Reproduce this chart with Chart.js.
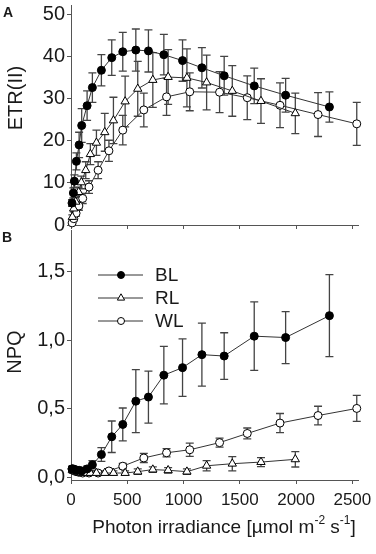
<!DOCTYPE html>
<html><head><meta charset="utf-8">
<script src="https://cdn.jsdelivr.net/npm/chart.js@4.4.0/dist/chart.umd.min.js"></script>
<style>
html,body{margin:0;padding:0;background:#fff;width:376px;height:554px;overflow:hidden}
#ca{position:absolute;left:0;top:0}
#cb{position:absolute;left:0;top:225px}
</style></head><body>
<canvas id="ca" width="376" height="240"></canvas>
<canvas id="cb" width="376" height="329"></canvas>
<script>
// ---- tick labels ----
const xTicks = [0, 500, 1000, 1500, 2000, 2500];
const etrTicks = [0, 10, 20, 30, 40, 50];
const npqTicks = [0, 0.5, 1.0, 1.5];
const seriesNames = ['BL', 'RL', 'WL'];

// ---- BL ----
const xBL = [9, 21, 30, 48, 72, 95, 143, 190, 270, 362, 460, 576, 688, 825, 991, 1163, 1361, 1628, 1907, 2296];
const etrBL = [5.2, 7.6, 10.4, 15.1, 19.0, 23.6, 28.3, 32.6, 36.7, 39.7, 41.1, 41.5, 41.3, 40.4, 39.0, 37.3, 35.4, 33.0, 30.8, 28.0];
const etrBLsd = [0.8, 1.2, 1.5, 2.0, 3.0, 4.0, 3.5, 3.5, 3.7, 4.2, 4.6, 5.0, 5.0, 4.8, 4.9, 4.8, 4.6, 4.2, 4.0, 3.6];
const npqBL = [0.06, 0.06, 0.055, 0.05, 0.05, 0.045, 0.06, 0.09, 0.165, 0.295, 0.385, 0.555, 0.585, 0.745, 0.80, 0.895, 0.885, 1.03, 1.02, 1.18];
const npqBLsd = [0.02, 0.02, 0.02, 0.02, 0.02, 0.02, 0.02, 0.03, 0.05, 0.115, 0.12, 0.23, 0.19, 0.21, 0.21, 0.23, 0.17, 0.25, 0.19, 0.30];

// ---- RL ----
const xRL = [12, 24, 42, 68, 92, 131, 172, 226, 300, 377, 481, 593, 727, 863, 1030, 1205, 1433, 1688, 1993];
const etrRL = [1.9, 3.9, 5.5, 7.8, 10.1, 13.0, 16.8, 19.5, 22.0, 24.8, 29.3, 32.3, 34.4, 35.1, 34.9, 33.8, 31.8, 29.4, 26.5];
const etrRLsd = [0.5, 0.8, 1.0, 1.2, 1.5, 2.0, 2.5, 3.0, 4.5, 5.5, 6.0, 6.5, 6.5, 6.5, 6.9, 6.5, 6.0, 5.3, 4.8];
const npqRL = [0.05, 0.045, 0.04, 0.035, 0.03, 0.03, 0.03, 0.03, 0.03, 0.03, 0.03, 0.04, 0.055, 0.05, 0.04, 0.083, 0.098, 0.11, 0.13];
const npqRLsd = [0.015, 0.015, 0.015, 0.015, 0.015, 0.015, 0.015, 0.015, 0.015, 0.015, 0.015, 0.02, 0.02, 0.02, 0.02, 0.038, 0.052, 0.033, 0.056];

// ---- WL ----
const xWL = [10, 25, 45, 70, 104, 160, 241, 337, 460, 647, 849, 1055, 1320, 1566, 1857, 2195, 2539];
const etrWL = [0.5, 1.5, 2.8, 4.5, 6.3, 9.0, 13.0, 17.6, 22.5, 27.3, 30.4, 31.6, 31.5, 30.2, 28.4, 26.2, 24.0];
const etrWLsd = [0.3, 0.5, 0.7, 1.0, 1.2, 1.5, 2.0, 2.5, 3.5, 4.0, 4.4, 4.5, 4.85, 5.2, 5.3, 5.2, 5.1];
const npqWL = [0.06, 0.05, 0.04, 0.035, 0.03, 0.03, 0.03, 0.045, 0.08, 0.14, 0.178, 0.20, 0.252, 0.319, 0.395, 0.45, 0.502];
const npqWLsd = [0.015, 0.015, 0.015, 0.015, 0.015, 0.015, 0.015, 0.015, 0.02, 0.033, 0.03, 0.048, 0.033, 0.04, 0.07, 0.068, 0.095];

const FONT = "'Liberation Sans', Arial, sans-serif";
const INK = '#1a1a1a';
const AXIS = '#555';

function pts(xs, ys) { return xs.map((x, i) => ({ x: x, y: ys[i] })); }

const styles = {
  BL: { pointStyle: 'circle', pointBackgroundColor: '#000', pointRadius: 4 },
  RL: { pointStyle: 'triangle', pointBackgroundColor: '#fff', pointRadius: 4.8 },
  WL: { pointStyle: 'circle', pointBackgroundColor: '#fff', pointRadius: 4 }
};
function ds(name, xs, ys, err) {
  return Object.assign({
    label: name, data: pts(xs, ys), err: err,
    borderColor: '#333', borderWidth: 1, pointBorderColor: '#000', pointBorderWidth: 1,
    showLine: true, tension: 0, clip: false, fill: false
  }, styles[name]);
}

const errorBars = {
  id: 'errorBars',
  beforeDatasetsDraw(chart) {
    const ctx = chart.ctx, xs = chart.scales.x, ys = chart.scales.y;
    chart.data.datasets.forEach(d => {
      if (!d.err) return;
      ctx.save();
      ctx.strokeStyle = '#444';
      ctx.lineWidth = 1.3;
      d.data.forEach((p, i) => {
        const e = d.err[i];
        const px = xs.getPixelForValue(p.x);
        const t = ys.getPixelForValue(p.y + e), b = ys.getPixelForValue(p.y - e);
        ctx.beginPath();
        ctx.moveTo(px, t); ctx.lineTo(px, b);
        ctx.moveTo(px - 4, t); ctx.lineTo(px + 4, t);
        ctx.moveTo(px - 4, b); ctx.lineTo(px + 4, b);
        ctx.stroke();
      });
      ctx.restore();
    });
  }
};

function xAxis(showLabels, h) {
  return {
    type: 'linear', min: 0, max: 2550,
    afterBuildTicks: s => { s.ticks = xTicks.map(v => ({ value: v })); },
    ticks: { display: showLabels, font: { family: FONT, size: 17 }, color: INK, padding: 6, maxRotation: 0, callback: v => String(v) },
    grid: { drawOnChartArea: false, drawTicks: true, tickLength: 4, color: AXIS, lineWidth: 1 },
    border: { display: true, color: AXIS, width: 1 },
    afterFit: s => { s.height = h; s.paddingLeft = 0; s.paddingRight = 0; }
  };
}
function yAxis(min, max, ticks, fmt) {
  return {
    type: 'linear', min: min, max: max,
    afterBuildTicks: s => { s.ticks = ticks.map(v => ({ value: v })); },
    ticks: { font: { family: FONT, size: 20 }, color: INK, padding: 2, callback: fmt },
    grid: { drawOnChartArea: false, drawTicks: true, tickLength: 4, color: AXIS, lineWidth: 1 },
    border: { display: true, color: AXIS, width: 1 },
    afterFit: s => { s.width = 71; s.paddingTop = 0; s.paddingBottom = 0; }
  };
}

const textA = {
  id: 'textA',
  afterDraw(chart) {
    const ctx = chart.ctx;
    ctx.save();
    ctx.fillStyle = INK;
    ctx.font = 'bold 14px ' + FONT;
    ctx.textAlign = 'center'; ctx.textBaseline = 'middle';
    ctx.fillText('A', 8, 13);
    ctx.font = '20px ' + FONT;
    ctx.translate(16, 98); ctx.rotate(-Math.PI / 2);
    ctx.fillText('ETR(II)', 0, 0);
    ctx.restore();
  }
};

const textB = {
  id: 'textB',
  afterDraw(chart) {
    const ctx = chart.ctx;
    ctx.save();
    ctx.fillStyle = INK;
    ctx.font = 'bold 14px ' + FONT;
    ctx.textAlign = 'center'; ctx.textBaseline = 'middle';
    ctx.fillText('B', 7, 13);
    // y title
    ctx.save();
    ctx.font = '20px ' + FONT;
    ctx.translate(15, 127); ctx.rotate(-Math.PI / 2);
    ctx.fillText('NPQ', 0, 0);
    ctx.restore();
    // legend
    const ly = [50, 73, 96];
    chart.data.datasets.forEach((d, i) => {
      const y = ly[i];
      ctx.strokeStyle = '#333'; ctx.lineWidth = 1;
      ctx.beginPath(); ctx.moveTo(98, y); ctx.lineTo(143, y); ctx.stroke();
      ctx.fillStyle = d.pointBackgroundColor; ctx.strokeStyle = '#000';
      ctx.beginPath();
      if (d.pointStyle === 'circle') { ctx.arc(121, y, 3.5, 0, Math.PI * 2); }
      else { const r = 4.2; ctx.moveTo(121, y - r); ctx.lineTo(121 + r * 0.866, y + r * 0.5); ctx.lineTo(121 - r * 0.866, y + r * 0.5); ctx.closePath(); }
      ctx.fill(); ctx.stroke();
      ctx.fillStyle = INK;
      ctx.font = '19px ' + FONT;
      ctx.textAlign = 'left'; ctx.textBaseline = 'middle';
      ctx.fillText(d.label, 155, y + 1);
    });
    // x title with superscripts
    const big = '19px ' + FONT, small = '12px ' + FONT;
    const parts = [['Photon irradiance [\u00b5mol m', big, 0], ['-2', small, -7], [' s', big, 0], ['-1', small, -7], [']', big, 0]];
    let w = 0;
    parts.forEach(p => { ctx.font = p[1]; w += ctx.measureText(p[0]).width; });
    let x = 224 - w / 2;
    ctx.textAlign = 'left'; ctx.textBaseline = 'middle';
    parts.forEach(p => { ctx.font = p[1]; ctx.fillText(p[0], x, 303 + p[2]); x += ctx.measureText(p[0]).width; });
    ctx.restore();
  }
};

new Chart(document.getElementById('ca'), {
  type: 'scatter',
  data: { datasets: [ds('BL', xBL, etrBL, etrBLsd), ds('RL', xRL, etrRL, etrRLsd), ds('WL', xWL, etrWL, etrWLsd)] },
  options: {
    responsive: false, animation: false, devicePixelRatio: 1,
    layout: { padding: { top: 3, right: 18, left: 0, bottom: 0 } },
    plugins: { legend: { display: false }, tooltip: { enabled: false } },
    scales: { x: xAxis(false, 15), y: yAxis(0, 52, etrTicks, v => String(v)) }
  },
  plugins: [errorBars, textA]
});

new Chart(document.getElementById('cb'), {
  type: 'scatter',
  data: { datasets: [ds('BL', xBL, npqBL, npqBLsd), ds('RL', xRL, npqRL, npqRLsd), ds('WL', xWL, npqWL, npqWLsd)] },
  options: {
    responsive: false, animation: false, devicePixelRatio: 1,
    layout: { padding: { top: 0, right: 18, left: 0, bottom: 0 } },
    plugins: { legend: { display: false }, tooltip: { enabled: false } },
    scales: { x: xAxis(true, 74), y: yAxis(-0.021, 1.8, npqTicks, v => Number(v).toFixed(1).replace('.', ',')) }
  },
  plugins: [errorBars, textB]
});
</script>
</body></html>
